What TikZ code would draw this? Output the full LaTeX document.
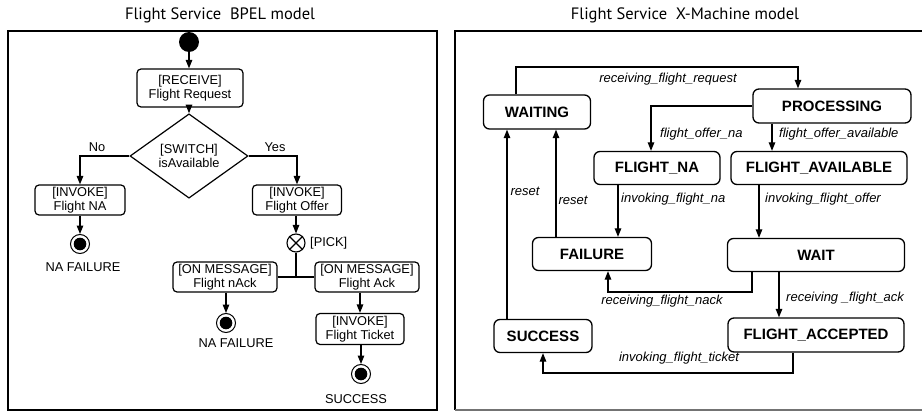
\documentclass[tikz,border=0pt]{standalone}
\usepackage{fontspec}
\setmainfont{Liberation Sans}
\newfontfamily\titlefont{PT Sans}
\usetikzlibrary{arrows.meta,shapes.geometric}
\tikzset{
  arr/.style={line width=1.2pt,-{Triangle[length=8.5pt,width=6.5pt]}},
  ln/.style={line width=1.2pt},
  act/.style={draw,line width=1.2pt,rounded corners=4pt,inner sep=0pt,align=center,font=\fontsize{12.8}{14}\selectfont},
  st/.style={draw,line width=1.3pt,rounded corners=6pt,inner sep=0pt,font=\fontsize{15}{17}\selectfont\bfseries},
  lab/.style={inner sep=0pt,font=\fontsize{13}{15}\selectfont\itshape},
  txt/.style={inner sep=0pt,font=\fontsize{12.8}{14}\selectfont},
  ttl/.style={inner sep=0pt,font=\fontsize{16.5}{18}\titlefont},
  startnode/.style={circle,fill=black,inner sep=0pt,minimum size=20pt},
  endnode/.style={circle,draw,line width=1pt,inner sep=0pt,minimum size=19pt,path picture={\fill (path picture bounding box.center) circle (6.3pt);}},
}
\begin{document}
\begin{tikzpicture}[x=1pt,y=-1pt]
\useasboundingbox (0,0) rectangle (922,412);
% frames
\draw[line width=2pt] (8,31) rectangle (437,410);
\draw[line width=2pt] (926,31) -- (455,31) -- (455,410);
\draw[line width=2pt,black!55] (455,410) -- (926,410);
% titles
\node[ttl] (t1) at (220,15) {Flight Service~~BPEL model};
\node[ttl] (t2) at (685,15) {Flight Service~~X-Machine model};

% ---------- BPEL ----------
\node[startnode] (start) at (189,42) {};
\node[act,minimum width=106pt,minimum height=38pt] (recv) at (190,88) {[RECEIVE]\\Flight Request};
\node[draw,diamond,line width=1.2pt,inner sep=0pt,minimum width=118pt,minimum height=58pt,align=center,font=\fontsize{12.8}{14}\selectfont] (sw) at (189,156) {[SWITCH]\\isAvailable};
\node[act,minimum width=90pt,minimum height=30pt] (na) at (80,200) {[INVOKE]\\Flight NA};
\node[act,minimum width=89pt,minimum height=30pt] (offer) at (297,200) {[INVOKE]\\Flight Offer};
\node[endnode] (end1) at (80,244) {};
\node[txt] (l1) at (83,267) {NA FAILURE};
\node[circle,draw,line width=1.1pt,inner sep=0pt,minimum size=18pt] (pick) at (296,243) {};
\draw[line width=1.1pt] (pick.45) -- (pick.225) (pick.135) -- (pick.315);
\node[txt,anchor=west] (lp) at (310,243) {[PICK]};
\node[act,minimum width=104pt,minimum height=30pt] (nack) at (225,277) {[ON MESSAGE]\\Flight nAck};
\node[act,minimum width=104pt,minimum height=30pt] (ack) at (367,277) {[ON MESSAGE]\\Flight Ack};
\node[endnode] (end2) at (226,323) {};
\node[txt] (l2) at (236,343) {NA FAILURE};
\node[act,minimum width=88pt,minimum height=31pt] (ticket) at (360,329) {[INVOKE]\\Flight Ticket};
\node[endnode] (end3) at (361,374) {};
\node[txt] (l3) at (356,399) {SUCCESS};

\draw[arr] (start.south) -- (start.south |- recv.north);
\draw[arr] (recv.south -| sw.north) -- (sw.north);
\draw[arr] (sw.west) -| (na.north);
\draw[arr] (sw.east) -| (offer.north);
\node[txt] (no) at (97,147) {No};
\node[txt] (yes) at (275,147) {Yes};
\draw[arr] (na.south) -- (end1.north);
\draw[arr] (offer.south -| pick) -- (pick.north);
\coordinate (j) at (296,277);
\draw[ln] (pick.south) -- (j);
\draw[ln] (nack.east) -- (ack.west);
\draw[arr] (nack.south -| end2) -- (end2.north);
\draw[arr] (ack.south -| ticket) -- (ticket.north);
\draw[arr] (ticket.south -| end3) -- (end3.north);

% ---------- X-Machine ----------
\node[st,minimum width=107pt,minimum height=34pt] (waiting) at (537,112) {WAITING};
\node[st,minimum width=158pt,minimum height=34pt] (proc) at (832,106) {PROCESSING};
\node[st,minimum width=126pt,minimum height=33pt] (fna) at (657,168) {FLIGHT\_NA};
\node[st,minimum width=176pt,minimum height=33pt] (favail) at (819,168) {FLIGHT\_AVAILABLE};
\node[st,minimum width=119pt,minimum height=33pt] (failure) at (592,254) {FAILURE};
\node[st,minimum width=177pt,minimum height=33pt] (wait) at (816,255) {WAIT};
\node[st,minimum width=176pt,minimum height=34pt] (facc) at (816,335) {FLIGHT\_ACCEPTED};
\node[st,minimum width=98pt,minimum height=33pt] (succ) at (543,336) {SUCCESS};

\coordinate (c1) at (516,67);
\coordinate (c2) at (798,67);
\draw[arr] (waiting.north -| c1) -- (c1) -- (c2) -- (c2 |- proc.north);
\node[lab] (e1) at (668,79) {receiving\_flight\_request};

\coordinate (c3) at (651,106);
\draw[arr] (proc.west) -- (c3) -- (c3 |- fna.north);
\node[lab,anchor=west] (e2) at (660,134) {flight\_offer\_na};

\coordinate (c4) at (772,0);
\draw[arr] (c4 |- proc.south) -- (c4 |- favail.north);
\node[lab,anchor=west] (e3) at (779,134) {flight\_offer\_available};

\coordinate (c5) at (618,0);
\draw[arr] (c5 |- fna.south) -- (c5 |- failure.north);
\node[lab,anchor=west] (e4) at (621,199) {invoking\_flight\_na};

\coordinate (c6) at (759,0);
\draw[arr] (c6 |- favail.south) -- (c6 |- wait.north);
\node[lab,anchor=west] (e5) at (765,199) {invoking\_flight\_offer};

\coordinate (c7) at (752,292);
\coordinate (c8) at (608,292);
\draw[arr] (c7 |- wait.south) -- (c7) -- (c8) -- (c8 |- failure.south);
\node[lab] (e6) at (662,301) {receiving\_flight\_nack};

\coordinate (c9) at (779,0);
\draw[arr] (c9 |- wait.south) -- (c9 |- facc.north);
\node[lab,anchor=west] (e7) at (786,298) {receiving \_flight\_ack};

\coordinate (c10) at (793,373);
\coordinate (c11) at (543,373);
\draw[arr] (c10 |- facc.south) -- (c10) -- (c11) -- (succ.south);
\node[lab] (e8) at (679,358) {invoking\_flight\_ticket};

\coordinate (c12) at (507,0);
\draw[arr] (c12 |- succ.north) -- (c12 |- waiting.south);
\node[lab] (e9) at (525,191) {reset};

\coordinate (c13) at (556,0);
\draw[arr] (c13 |- failure.north) -- (c13 |- waiting.south);
\node[lab] (e10) at (573,200) {reset};
\end{tikzpicture}
\end{document}
